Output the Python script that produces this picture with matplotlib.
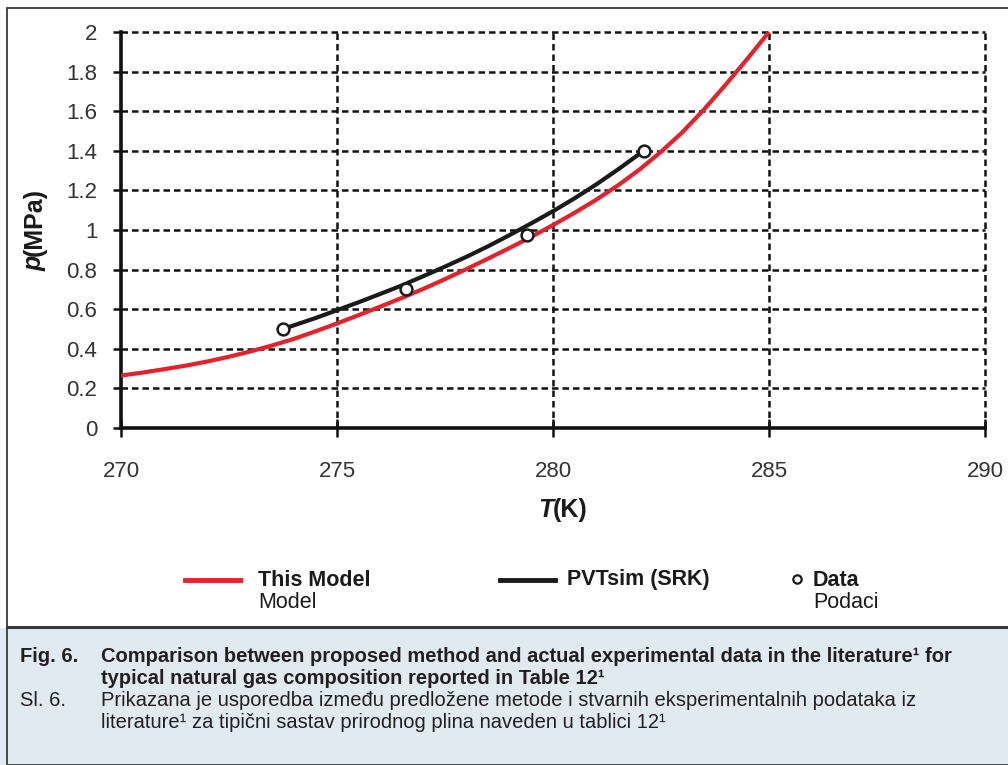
import numpy as np
import matplotlib
matplotlib.use("Agg")
import matplotlib.pyplot as plt
from matplotlib.patches import Rectangle
from matplotlib.lines import Line2D

plt.rcParams['font.family'] = ['Liberation Sans', 'DejaVu Sans']

# This Model (red curve)
model_T = [270, 270.5, 271, 271.5, 272, 272.5, 273, 273.5, 274, 274.5, 275, 275.5,
           276, 276.5, 277, 277.5, 278, 278.5, 279, 279.5, 280, 280.5, 281, 281.5,
           282, 282.5, 283, 283.5, 284, 284.5, 285]
model_p = [0.265, 0.28, 0.297, 0.315, 0.336, 0.36, 0.387, 0.417, 0.45, 0.488, 0.528, 0.57,
           0.613, 0.657, 0.703, 0.752, 0.803, 0.856, 0.91, 0.966, 1.025, 1.087, 1.153, 1.225,
           1.305, 1.395, 1.495, 1.61, 1.735, 1.865, 2.0]

# PVTsim (SRK) (black curve)
pvt_T = [273.75, 274.5, 275, 275.5, 276, 276.5, 277, 277.5, 278, 278.5, 279, 279.5,
         280, 280.5, 281, 281.5, 282.1]
pvt_p = [0.50, 0.555, 0.595, 0.635, 0.677, 0.72, 0.767, 0.815, 0.865, 0.918, 0.975, 1.034,
         1.095, 1.16, 1.23, 1.305, 1.40]

# experimental data
data_T = [273.75, 276.6, 279.4, 282.1]
data_p = [0.50, 0.70, 0.975, 1.40]

x_ticks = [270, 275, 280, 285, 290]
y_ticks = [0, 0.2, 0.4, 0.6, 0.8, 1.0, 1.2, 1.4, 1.6, 1.8, 2.0]
y_labels = ['0', '0.2', '0.4', '0.6', '0.8', '1', '1.2', '1.4', '1.6', '1.8', '2']

W, H = 1008, 765
fig = plt.figure(figsize=(W / 100, H / 100), dpi=100)

def fx(px):
    return px / W

def fy(py):
    return 1 - py / H

# caption panel + frame
fig.add_artist(Rectangle((0, 0), 1, fy(628), transform=fig.transFigure,
                         facecolor='#e1e9f1', edgecolor='none', zorder=0))
fig.add_artist(Rectangle((fx(7), 0), 1.2, fy(8), transform=fig.transFigure,
                         facecolor='none', edgecolor='#3a3a3a', lw=1.3, zorder=1))
fig.add_artist(Line2D([fx(7), 1], [fy(627)] * 2, transform=fig.transFigure,
                      color='#3a3a3a', lw=2.2, zorder=1))

ax = fig.add_axes([fx(121), fy(428), (985 - 121) / W, (428 - 32) / H])
ax.set_xlim(270, 290)
ax.set_ylim(0, 2)
ax.set_xticks(x_ticks)
ax.set_yticks(y_ticks)
ax.set_yticklabels(y_labels)

grid_kw = dict(color='#111111', lw=1.8, linestyle=(0, (2.6, 1.6)), clip_on=False, zorder=1)
for t in x_ticks[1:]:
    ax.axvline(t, **grid_kw)
for t in y_ticks[1:]:
    ax.axhline(t, **grid_kw)

for s in ['top', 'right']:
    ax.spines[s].set_visible(False)
for s in ['left', 'bottom']:
    ax.spines[s].set_linewidth(2.6)
    ax.spines[s].set_color('#111111')
    ax.spines[s].set_zorder(3)

ax.tick_params(axis='y', direction='out', length=6, width=1.8, color='#111111',
               labelsize=16, labelcolor='#333333', pad=11)
ax.tick_params(axis='x', direction='inout', length=13, width=1.8, color='#111111',
               labelsize=16, labelcolor='#333333', pad=17)

ax.plot(model_T, model_p, color='#e8202a', lw=3.0, zorder=4, solid_capstyle='butt')
ax.plot(pvt_T, pvt_p, color='#1a1a1a', lw=3.0, zorder=5, solid_capstyle='butt')
ax.plot(data_T, data_p, linestyle='none', marker='o', ms=8.5, mfc='white',
        mec='#1a1a1a', mew=1.8, zorder=6)

# axis titles (italic symbol + bold unit)
lab_kw = dict(fontsize=18, fontweight='bold', color='#1a1a1a')
fig.text(fx(553), fy(510), 'T', style='italic', ha='right', va='center', **lab_kw)
fig.text(fx(553), fy(510), '(K)', ha='left', va='center', **lab_kw)
fig.text(fx(35), fy(256), 'p', style='italic', rotation=90, rotation_mode='anchor',
         ha='right', va='center', **lab_kw)
fig.text(fx(35), fy(256), '(MPa)', rotation=90, rotation_mode='anchor',
         ha='left', va='center', **lab_kw)

# legend
fig.add_artist(Line2D([fx(185), fx(240)], [fy(580)] * 2, transform=fig.transFigure,
                      color='#e8202a', lw=3.5))
fig.add_artist(Line2D([fx(500), fx(555)], [fy(580)] * 2, transform=fig.transFigure,
                      color='#1a1a1a', lw=3.5))
fig.add_artist(Line2D([fx(797)], [fy(579)], transform=fig.transFigure,
                      marker='o', ms=6, mfc='white', mec='#1a1a1a', mew=1.6))
leg_kw = dict(fontsize=15.5, va='center', ha='left', color='#1a1a1a')
fig.text(fx(258), fy(580), 'This Model', fontweight='bold', **leg_kw)
fig.text(fx(258), fy(603), 'Model', **leg_kw)
fig.text(fx(567), fy(580), 'PVTsim (SRK)', fontweight='bold', **leg_kw)
fig.text(fx(813), fy(580), 'Data', fontweight='bold', **leg_kw)
fig.text(fx(813), fy(603), 'Podaci', **leg_kw)

# caption
cap_kw = dict(fontsize=14.5, va='center', ha='left', color='#231f20')
fig.text(fx(20), fy(657), 'Fig. 6.', fontweight='bold', **cap_kw)
fig.text(fx(101), fy(657),
         'Comparison between proposed method and actual experimental data in the literature\u00b9 for',
         fontweight='bold', **cap_kw)
fig.text(fx(101), fy(679), 'typical natural gas composition reported in Table 12\u00b9',
         fontweight='bold', **cap_kw)
fig.text(fx(20), fy(701), 'Sl. 6.', **cap_kw)
fig.text(fx(101), fy(701),
         'Prikazana je usporedba između predložene metode i stvarnih eksperimentalnih podataka iz',
         **cap_kw)
fig.text(fx(101), fy(723),
         'literature\u00b9 za tipični sastav prirodnog plina naveden u tablici 12\u00b9', **cap_kw)

fig.savefig('out.png', dpi=100)
